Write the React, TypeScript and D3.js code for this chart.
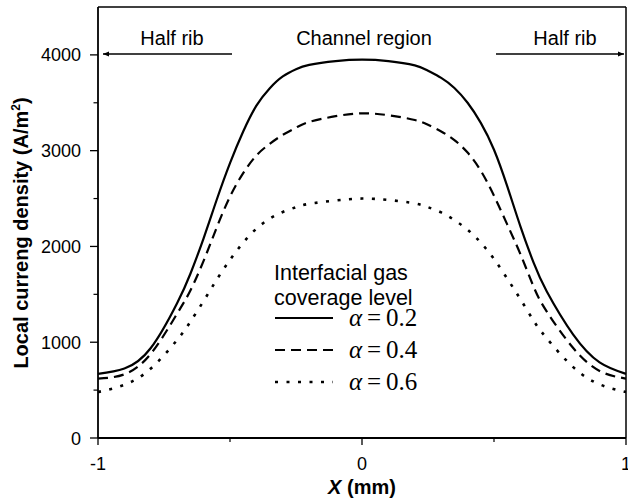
import React from "react";
import * as d3 from "d3";

// Position across the cell (mm)
const xPos = [-1, -0.9, -0.8, -0.7, -0.65, -0.6, -0.55, -0.5, -0.45, -0.4, -0.35, -0.3, -0.25, -0.2, -0.1, 0, 0.1, 0.2, 0.25, 0.3, 0.35, 0.4, 0.45, 0.5, 0.55, 0.6, 0.65, 0.7, 0.8, 0.9, 1];

// Local current density (A/m^2) for each gas coverage level
const alpha02 = [670, 725, 940, 1410, 1715, 2085, 2490, 2870, 3200, 3470, 3650, 3775, 3850, 3895, 3935, 3950, 3935, 3890, 3835, 3760, 3655, 3500, 3290, 3010, 2630, 2210, 1830, 1530, 1080, 790, 670];
const alpha04 = [620, 665, 880, 1300, 1540, 1850, 2200, 2520, 2765, 2950, 3070, 3165, 3240, 3300, 3360, 3390, 3370, 3320, 3270, 3200, 3110, 2980, 2790, 2530, 2230, 1920, 1580, 1320, 940, 700, 620];
const alpha06 = [480, 555, 725, 1025, 1215, 1430, 1655, 1860, 2040, 2185, 2290, 2360, 2410, 2445, 2480, 2500, 2485, 2450, 2410, 2355, 2275, 2175, 2040, 1870, 1665, 1450, 1225, 1040, 740, 560, 480];

const seriesLabels = ["0.2", "0.4", "0.6"];
const seriesDash = ["none", "10,6", "3,8.5"];

const yMajorTicks = [0, 1000, 2000, 3000, 4000];
const yMinorTicks = [500, 1500, 2500, 3500];
const xMajorTicks = [-1, 0, 1];
const xMinorTicks = [-0.5, 0.5];

const W = 628;
const H = 500;
const left = 98;
const right = 626;
const top = 7;
const bottom = 438;

const sans = "'Liberation Sans', Arial, sans-serif";
const serif = "'Liberation Serif', 'Times New Roman', serif";

export default function App() {
  const x = d3.scaleLinear().domain([-1, 1]).range([left, right]);
  const y = d3.scaleLinear().domain([0, 4500]).range([bottom, top]);

  const line = d3
    .line<[number, number]>()
    .x((d) => x(d[0]))
    .y((d) => y(d[1]))
    .curve(d3.curveNatural);

  const series = [alpha02, alpha04, alpha06].map((vals) =>
    vals.map((v, i) => [xPos[i], v] as [number, number])
  );

  const legendRows = [318, 350, 382];

  return (
    <svg
      width={W}
      height={H}
      style={{ position: "absolute", left: 0, top: 0, background: "#fff" }}
      fontFamily={sans}
    >
      <defs>
        <marker id="arrowHead" viewBox="0 0 10 10" refX="10" refY="5" markerWidth="8" markerHeight="6" markerUnits="userSpaceOnUse" orient="auto">
          <path d="M0,1 L10,5 L0,9 z" fill="#000" />
        </marker>
      </defs>

      {/* frame */}
      <line x1={left} y1={top} x2={right} y2={top} stroke="#000" strokeWidth={1.5} />
      <line x1={right} y1={top} x2={right} y2={bottom} stroke="#000" strokeWidth={1.5} />
      <line x1={left} y1={top} x2={left} y2={bottom} stroke="#000" strokeWidth={1.8} />
      <line x1={left} y1={bottom} x2={right} y2={bottom} stroke="#000" strokeWidth={1.8} />

      {/* y ticks */}
      {yMajorTicks.map((t) => (
        <g key={"ym" + t}>
          <line x1={left - 8} x2={left} y1={y(t)} y2={y(t)} stroke="#000" strokeWidth={1.3} />
          <text x={81} y={y(t) + 6.5} textAnchor="end" fontSize={18}>
            {t}
          </text>
        </g>
      ))}
      {yMinorTicks.map((t) => (
        <line key={"yn" + t} x1={left - 4.5} x2={left} y1={y(t)} y2={y(t)} stroke="#000" strokeWidth={1.2} />
      ))}

      {/* x ticks */}
      {xMajorTicks.map((t) => (
        <g key={"xm" + t}>
          <line x1={x(t)} x2={x(t)} y1={bottom} y2={bottom + 7} stroke="#000" strokeWidth={1.3} />
          <text x={x(t)} y={470} textAnchor="middle" fontSize={18}>
            {t}
          </text>
        </g>
      ))}
      {xMinorTicks.map((t) => (
        <line key={"xn" + t} x1={x(t)} x2={x(t)} y1={bottom - 1} y2={bottom + 4} stroke="#000" strokeWidth={1.2} />
      ))}

      {/* axis titles */}
      <text x={362} y={494} textAnchor="middle" fontSize={20} fontWeight="bold">
        <tspan fontStyle="italic">X</tspan> (mm)
      </text>
      <text
        transform="translate(28,233) rotate(-90)"
        textAnchor="middle"
        fontSize={20}
        fontWeight="bold"
      >
        Local curreng density (A/m<tspan dy={-8} fontSize={12}>2</tspan>
        <tspan dy={8}>)</tspan>
      </text>

      {/* region annotations */}
      <text x={172} y={45} textAnchor="middle" fontSize={20}>Half rib</text>
      <text x={364} y={45} textAnchor="middle" fontSize={20}>Channel region</text>
      <text x={565} y={45} textAnchor="middle" fontSize={20}>Half rib</text>
      <line x1={232} y1={54} x2={103} y2={54} stroke="#000" strokeWidth={1.3} markerEnd="url(#arrowHead)" />
      <line x1={496} y1={54} x2={624} y2={54} stroke="#000" strokeWidth={1.3} markerEnd="url(#arrowHead)" />

      {/* curves */}
      {series.map((s, i) => (
        <path
          key={"s" + i}
          d={line(s) ?? ""}
          fill="none"
          stroke="#000"
          strokeWidth={i === 2 ? 2.6 : 2.2}
          strokeDasharray={seriesDash[i]}
        />
      ))}

      {/* legend */}
      <text x={274} y={280} fontSize={21.5}>Interfacial gas</text>
      <text x={274} y={305} fontSize={21.5}>coverage level</text>
      {seriesLabels.map((lab, i) => (
        <g key={"lg" + i}>
          <line
            x1={275}
            x2={333}
            y1={legendRows[i]}
            y2={legendRows[i]}
            stroke="#000"
            strokeWidth={i === 2 ? 2.6 : 2.2}
            strokeDasharray={seriesDash[i]}
          />
          <text y={legendRows[i] + 8} fontSize={25} fontFamily={serif}>
            <tspan x={349} fontStyle="italic">α</tspan>
            <tspan x={367}>=</tspan>
            <tspan x={386}>{lab}</tspan>
          </text>
        </g>
      ))}
    </svg>
  );
}
